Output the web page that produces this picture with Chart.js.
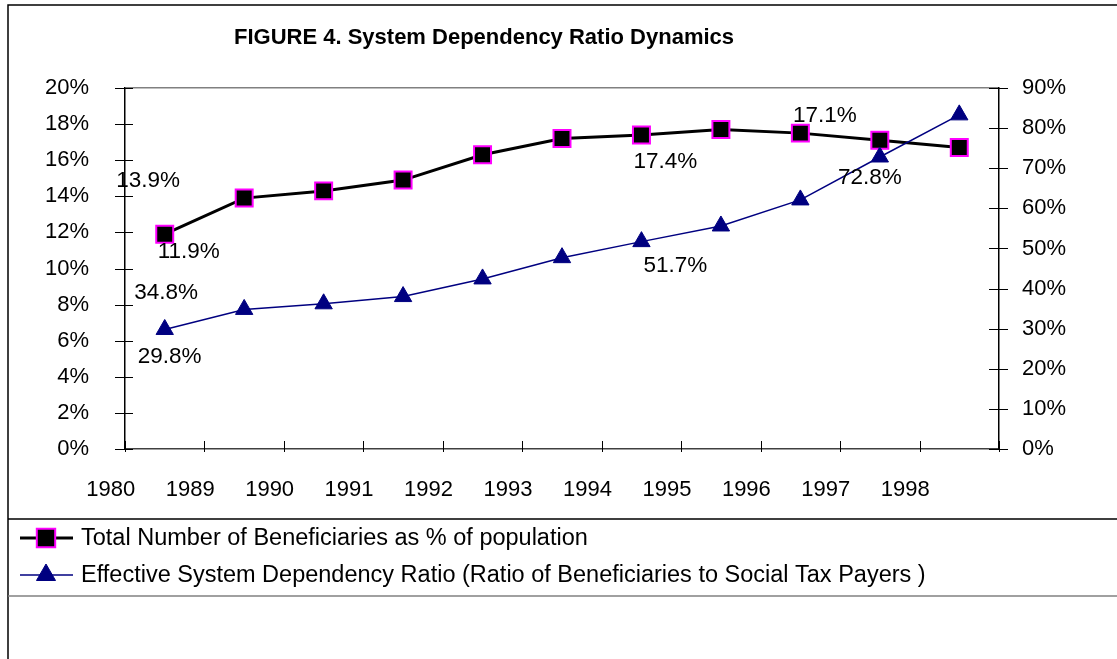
<!DOCTYPE html>
<html>
<head>
<meta charset="utf-8">
<title>System Dependency Ratio Dynamics</title>
<script src="https://cdn.jsdelivr.net/npm/chart.js@4.4.0/dist/chart.umd.min.js"></script>
<style>
  html, body { margin: 0; padding: 0; background: #fff; }
  #chart { display: block; }
</style>
</head>
<body>
<canvas id="chart" width="1117" height="659"></canvas>
<script>
// --- Data ---
const years = ["1980", "1989", "1990", "1991", "1992", "1993", "1994", "1995", "1996", "1997", "1998"];
const beneficiaries = [11.9, 13.9, 14.3, 14.9, 16.3, 17.2, 17.4, 17.7, 17.5, 17.1, 16.7];
const dependency = [29.8, 34.8, 36.2, 38.0, 42.4, 47.7, 51.7, 55.6, 62.1, 72.8, 83.3];
const leftTickValues = [0, 2, 4, 6, 8, 10, 12, 14, 16, 18, 20];
const rightTickValues = [0, 10, 20, 30, 40, 50, 60, 70, 80, 90];

const FONT = "'Liberation Sans', Arial, sans-serif";

// value labels: dataset, point index, offset of the text centre from the point
const labelSpots = [
  { ds: 0, i: 0, dx: 24, dy: 18 },
  { ds: 0, i: 1, dx: -96, dy: -17 },
  { ds: 1, i: 0, dx: 5, dy: 27 },
  { ds: 1, i: 1, dx: -78, dy: -17 },
  { ds: 0, i: 6, dx: 24, dy: 27 },
  { ds: 1, i: 6, dx: 34, dy: 24 },
  { ds: 0, i: 9, dx: -55, dy: -25 },
  { ds: 1, i: 9, dx: -10, dy: 21 },
];

// --- Frame, title and legend box lines ---
const framePlugin = {
  id: "frame",
  beforeDraw(chart) {
    const { ctx, width, height } = chart;
    ctx.save();
    ctx.fillStyle = "#fff";
    ctx.fillRect(0, 0, width, height);
    ctx.lineWidth = 1.5;
    ctx.strokeStyle = "#000";
    ctx.beginPath();
    ctx.moveTo(8, height);
    ctx.lineTo(8, 5);
    ctx.lineTo(width, 5);
    ctx.moveTo(8, 519);
    ctx.lineTo(width, 519);
    ctx.stroke();
    ctx.strokeStyle = "#808080";
    ctx.beginPath();
    ctx.moveTo(8, 596);
    ctx.lineTo(width, 596);
    ctx.stroke();

    ctx.font = "bold 22px " + FONT;
    ctx.fillStyle = "#000";
    ctx.textAlign = "center";
    ctx.textBaseline = "middle";
    ctx.fillText("FIGURE 4. System Dependency Ratio Dynamics", 484, 38);
    ctx.restore();
  }
};

// --- Tick marks crossing the axes ---
const crossTicks = {
  id: "crossTicks",
  afterDraw(chart) {
    const { ctx, chartArea } = chart;
    const xs = chart.scales.x, yl = chart.scales.y, yr = chart.scales.y1;
    ctx.save();
    ctx.strokeStyle = "#000";
    ctx.lineWidth = 1;
    ctx.beginPath();
    const step = xs.getPixelForValue(1) - xs.getPixelForValue(0);
    for (let i = 0; i <= years.length; i++) {
      const x = Math.round(xs.getPixelForValue(0) - step / 2 + i * step) + 0.5;
      ctx.moveTo(x, chartArea.bottom - 8);
      ctx.lineTo(x, chartArea.bottom + 3);
    }
    leftTickValues.forEach(v => {
      const y = Math.round(yl.getPixelForValue(v)) + 0.5;
      ctx.moveTo(chartArea.left - 10, y);
      ctx.lineTo(chartArea.left + 8, y);
    });
    rightTickValues.forEach(v => {
      const y = Math.round(yr.getPixelForValue(v)) + 0.5;
      ctx.moveTo(chartArea.right - 10, y);
      ctx.lineTo(chartArea.right + 9, y);
    });
    ctx.stroke();
    ctx.restore();
  }
};

// --- Value labels next to points ---
const valueLabels = {
  id: "valueLabels",
  afterDatasetsDraw(chart) {
    const ctx = chart.ctx;
    ctx.save();
    ctx.font = "22.5px " + FONT;
    ctx.fillStyle = "#000";
    ctx.textAlign = "center";
    ctx.textBaseline = "middle";
    labelSpots.forEach(s => {
      const pt = chart.getDatasetMeta(s.ds).data[s.i];
      const v = chart.data.datasets[s.ds].data[s.i];
      ctx.fillText(v.toFixed(1) + "%", pt.x + s.dx, pt.y + s.dy);
    });
    ctx.restore();
  }
};

// --- Legend under the plot ---
const boxLegend = {
  id: "boxLegend",
  afterDraw(chart) {
    const ctx = chart.ctx;
    const rows = [538, 575];
    ctx.save();
    chart.data.datasets.forEach((ds, k) => {
      const y = rows[k];
      ctx.strokeStyle = ds.borderColor;
      ctx.lineWidth = ds.borderWidth;
      ctx.beginPath();
      ctx.moveTo(20, y);
      ctx.lineTo(73, y);
      ctx.stroke();
      ctx.fillStyle = ds.pointBackgroundColor;
      ctx.strokeStyle = ds.pointBorderColor;
      ctx.lineWidth = ds.pointBorderWidth;
      Chart.helpers.drawPoint(ctx, {
        pointStyle: ds.pointStyle,
        radius: ds.pointRadius + 1,
        rotation: 0,
        borderWidth: ds.pointBorderWidth
      }, 46, y);
      ctx.font = "23.5px " + FONT;
      ctx.fillStyle = "#000";
      ctx.textAlign = "left";
      ctx.textBaseline = "middle";
      ctx.fillText(ds.label, 81, y + 1);
    });
    ctx.restore();
  }
};

new Chart(document.getElementById("chart"), {
  type: "line",
  data: {
    labels: years,
    datasets: [
      {
        label: "Total Number of Beneficiaries as % of population",
        data: beneficiaries,
        yAxisID: "y",
        order: 1,
        borderColor: "#000",
        borderWidth: 3,
        pointStyle: "rect",
        pointRadius: 12,
        pointBackgroundColor: "#000",
        pointBorderColor: "#ff00ff",
        pointBorderWidth: 2,
        tension: 0
      },
      {
        label: "Effective System Dependency Ratio (Ratio of Beneficiaries to Social Tax Payers )",
        data: dependency,
        yAxisID: "y1",
        order: 0,
        borderColor: "#000080",
        borderWidth: 1.5,
        pointStyle: "triangle",
        pointRadius: 10,
        pointBackgroundColor: "#000080",
        pointBorderColor: "#000080",
        pointBorderWidth: 1,
        tension: 0
      }
    ]
  },
  options: {
    responsive: false,
    animation: false,
    layout: { padding: { top: 88, left: 0, right: 0, bottom: 0 } },
    plugins: {
      legend: { display: false },
      title: { display: false },
      tooltip: { enabled: false }
    },
    scales: {
      x: {
        offset: true,
        grid: { display: false, drawTicks: false },
        border: { display: true, color: "#404040", width: 1.5 },
        ticks: {
          color: "#000",
          font: { family: FONT, size: 22 },
          labelOffset: -54,
          padding: 28,
          autoSkip: false,
          maxRotation: 0
        },
        afterFit: s => { s.height = 210; }
      },
      y: {
        position: "left",
        min: 0,
        max: 20,
        afterBuildTicks: s => { s.ticks = leftTickValues.map(v => ({ value: v })); },
        grid: {
          drawTicks: false,
          lineWidth: 1.5,
          color: c => (c.tick && c.tick.value === 20 ? "#808080" : "rgba(0,0,0,0)")
        },
        border: { color: "#000", width: 1.5 },
        ticks: {
          color: "#000",
          font: { family: FONT, size: 22 },
          padding: 36,
          callback: v => v + "%"
        },
        afterFit: s => { s.width = 125; }
      },
      y1: {
        position: "right",
        min: 0,
        max: 90,
        afterBuildTicks: s => { s.ticks = rightTickValues.map(v => ({ value: v })); },
        grid: { display: false, drawTicks: false },
        border: { color: "#000", width: 1.5 },
        ticks: {
          color: "#000",
          font: { family: FONT, size: 22 },
          padding: 23,
          callback: v => v + "%"
        },
        afterFit: s => { s.width = 118; }
      }
    }
  },
  plugins: [framePlugin, crossTicks, valueLabels, boxLegend]
});
</script>
</body>
</html>
